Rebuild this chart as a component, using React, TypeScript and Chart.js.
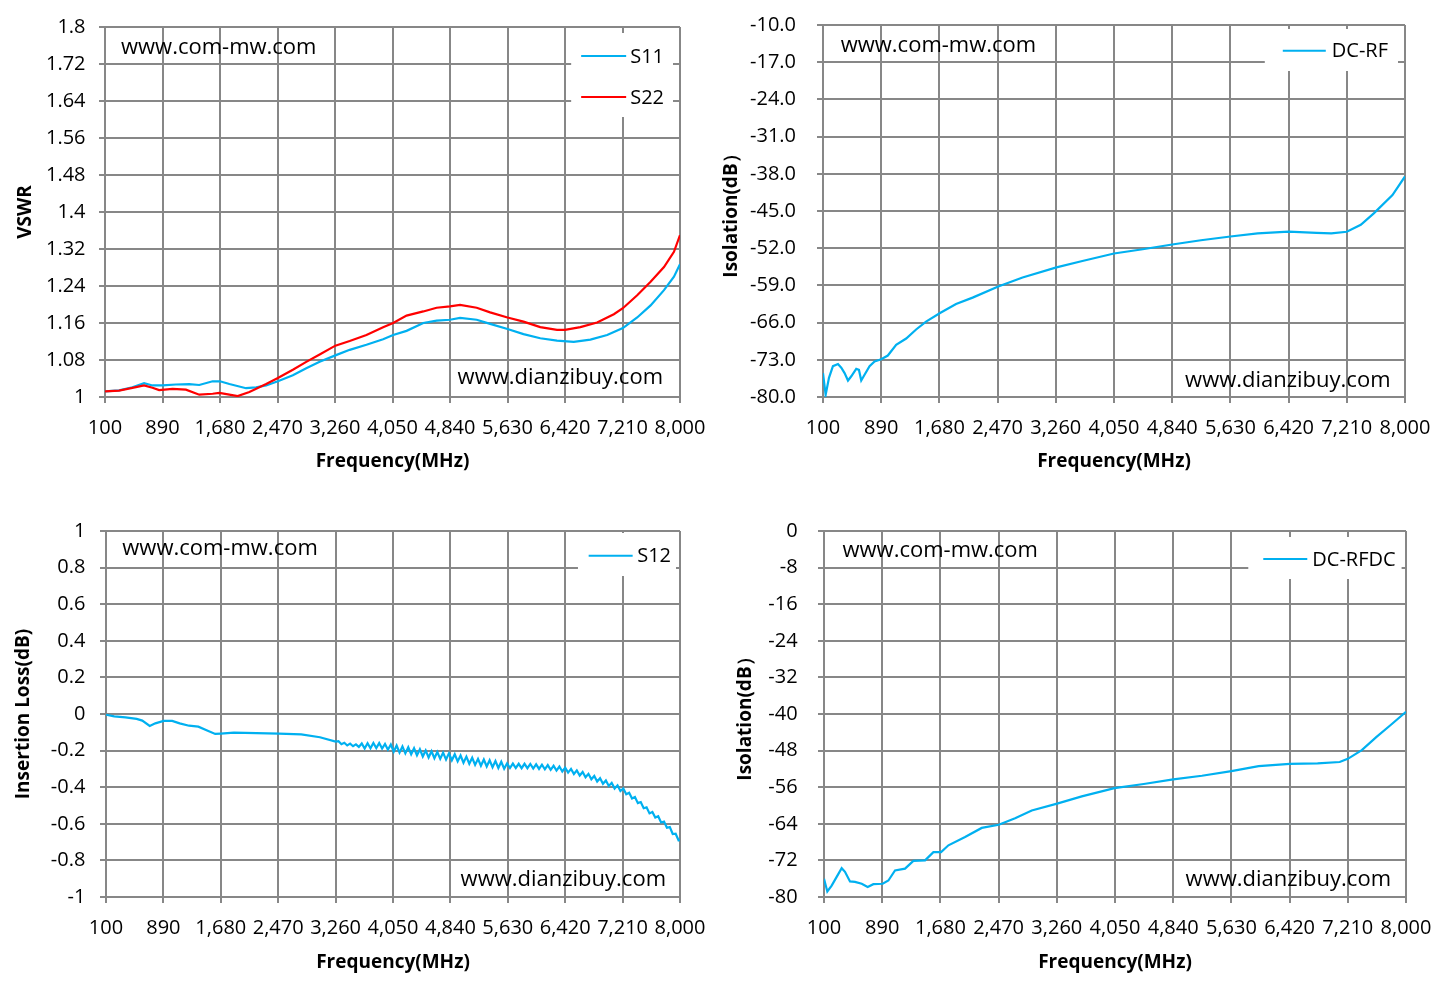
import React, { useEffect, useRef } from 'react';
import { Chart, registerables } from 'chart.js';

Chart.register(...registerables);

// ---------------- data ----------------
const FREQ_TICKS = [100, 890, 1680, 2470, 3260, 4050, 4840, 5630, 6420, 7210, 8000];
const VSWR_TICKS = [1, 1.08, 1.16, 1.24, 1.32, 1.4, 1.48, 1.56, 1.64, 1.72, 1.8];
const ISO_RF_TICKS = [-80, -73, -66, -59, -52, -45, -38, -31, -24, -17, -10];
const IL_TICKS = [-1, -0.8, -0.6, -0.4, -0.2, 0, 0.2, 0.4, 0.6, 0.8, 1];
const ISO_RFDC_TICKS = [-80, -72, -64, -56, -48, -40, -32, -24, -16, -8, 0];

const S11_FREQ = [
  100, 293, 477, 637, 752, 890, 1074, 1257, 1395, 1579,
  1680, 1809, 2038, 2176, 2314, 2475, 2681, 2865, 3049, 3265,
  3462, 3692, 3921, 4059, 4243, 4473, 4656, 4840, 4978, 5207,
  5391, 5630, 5850, 6080, 6310, 6540, 6769, 6999, 7215, 7412,
  7596, 7780, 7917, 8000,
];
const S11_VSWR = [
  1.012, 1.0145, 1.021, 1.03, 1.025, 1.025, 1.027, 1.028, 1.026, 1.034,
  1.034, 1.028, 1.019, 1.021, 1.025, 1.034, 1.047, 1.062, 1.076, 1.09,
  1.102, 1.113, 1.125, 1.134, 1.143, 1.16, 1.165, 1.167, 1.171, 1.167,
  1.158, 1.147, 1.136, 1.127, 1.122, 1.119, 1.124, 1.134, 1.149, 1.172,
  1.198, 1.231, 1.26, 1.287,
];

const S22_FREQ = [
  100, 293, 477, 637, 752, 844, 1028, 1212, 1395, 1579,
  1671, 1809, 1923, 2084, 2314, 2475, 2681, 2865, 3049, 3265,
  3462, 3692, 3921, 4059, 4243, 4473, 4656, 4840, 4978, 5207,
  5391, 5630, 5850, 6080, 6310, 6420, 6631, 6861, 7091, 7215,
  7412, 7596, 7780, 7917, 8000,
];
const S22_VSWR = [
  1.012, 1.0138, 1.0196, 1.025, 1.02, 1.015, 1.0175, 1.016, 1.005, 1.007,
  1.0087, 1.005, 1.002, 1.011, 1.028, 1.041, 1.059, 1.076, 1.092, 1.111,
  1.121, 1.134, 1.151, 1.16, 1.176, 1.185, 1.193, 1.196, 1.199, 1.193,
  1.183, 1.172, 1.163, 1.151, 1.145, 1.145, 1.151, 1.161, 1.179, 1.192,
  1.22, 1.249, 1.281, 1.314, 1.35,
];

const DCRF_FREQ = [
  100, 136, 181, 235, 303, 348, 393, 439, 484, 551,
  588, 619, 664, 732, 800, 890, 980, 1093, 1229, 1364,
  1499, 1689, 1906, 2131, 2479, 2809, 3269, 3621, 4050, 4440,
  4840, 5230, 5630, 6000, 6420, 6800, 7000, 7210, 7400, 7580,
  7830, 8000,
];
const DCRF_ISO = [
  -75.5, -79.6, -76.4, -74.2, -73.8, -74.5, -75.5, -76.9, -76.1, -74.7,
  -74.9, -76.9, -75.8, -74.2, -73.3, -72.9, -72.2, -70.2, -69.0, -67.3,
  -65.8, -64.2, -62.5, -61.3, -59.2, -57.5, -55.6, -54.4, -53.0, -52.2,
  -51.3, -50.5, -49.8, -49.2, -48.9, -49.1, -49.2, -48.9, -47.6, -45.4,
  -42.0, -38.5,
];

const S12_FREQ = [
  100, 213, 368, 522, 599, 702, 779, 893, 1011, 1114,
  1243, 1371, 1500, 1603, 1680, 1860, 2169, 2478, 2787, 3044,
  3260, 3300, 3340, 3380, 3420, 3460, 3500, 3540, 3580, 3620,
  3660, 3700, 3740, 3780, 3820, 3860, 3900, 3940, 3980, 4020,
  4060, 4100, 4140, 4180, 4220, 4260, 4300, 4340, 4380, 4420,
  4460, 4500, 4540, 4580, 4620, 4660, 4700, 4740, 4780, 4820,
  4860, 4900, 4940, 4980, 5020, 5060, 5100, 5140, 5180, 5220,
  5260, 5300, 5340, 5380, 5420, 5460, 5500, 5540, 5580, 5620,
  5660, 5700, 5740, 5780, 5820, 5860, 5900, 5940, 5980, 6020,
  6060, 6100, 6140, 6180, 6220, 6260, 6300, 6340, 6380, 6420,
  6460, 6500, 6540, 6580, 6620, 6660, 6700, 6740, 6780, 6820,
  6860, 6900, 6940, 6980, 7020, 7060, 7100, 7140, 7180, 7220,
  7260, 7300, 7340, 7380, 7420, 7460, 7500, 7540, 7580, 7620,
  7660, 7700, 7740, 7780, 7820, 7860, 7900, 7940, 7980, 8000,
];
const S12_IL = [
  -0.004, -0.013, -0.018, -0.027, -0.036, -0.065, -0.051, -0.038, -0.038, -0.051,
  -0.064, -0.069, -0.091, -0.109, -0.107, -0.102, -0.105, -0.107, -0.111, -0.127,
  -0.151, -0.149, -0.165, -0.157, -0.172, -0.162, -0.176, -0.166, -0.18, -0.161,
  -0.189, -0.16, -0.187, -0.158, -0.186, -0.159, -0.189, -0.164, -0.195, -0.167,
  -0.206, -0.172, -0.211, -0.177, -0.215, -0.181, -0.22, -0.187, -0.226, -0.193,
  -0.232, -0.199, -0.238, -0.204, -0.242, -0.208, -0.245, -0.211, -0.249, -0.215,
  -0.253, -0.22, -0.259, -0.227, -0.266, -0.233, -0.272, -0.239, -0.278, -0.245,
  -0.283, -0.249, -0.287, -0.253, -0.291, -0.257, -0.295, -0.261, -0.299, -0.27,
  -0.295, -0.271, -0.295, -0.272, -0.296, -0.272, -0.296, -0.273, -0.298, -0.275,
  -0.3, -0.277, -0.302, -0.279, -0.305, -0.283, -0.309, -0.287, -0.314, -0.293,
  -0.32, -0.3, -0.328, -0.308, -0.336, -0.317, -0.346, -0.327, -0.357, -0.339,
  -0.369, -0.351, -0.381, -0.363, -0.393, -0.376, -0.407, -0.39, -0.421, -0.407,
  -0.438, -0.43, -0.462, -0.454, -0.487, -0.481, -0.515, -0.51, -0.543, -0.535,
  -0.566, -0.559, -0.593, -0.588, -0.622, -0.618, -0.656, -0.654, -0.69, -0.687,
];

const DCRFDC_FREQ = [
  100, 145, 204, 272, 340, 385, 453, 521, 612, 693,
  770, 897, 974, 1064, 1200, 1313, 1472, 1585, 1689, 1789,
  2015, 2241, 2472, 2694, 2920, 3264, 3599, 4043, 4440, 4840,
  5230, 5630, 6000, 6420, 6800, 7100, 7210, 7400, 7600, 7800,
  8000,
];
const DCRFDC_ISO = [
  -76.0, -78.8, -77.5, -75.6, -73.7, -74.5, -76.6, -76.7, -77.1, -77.8,
  -77.2, -77.1, -76.4, -74.2, -73.8, -72.1, -72.0, -70.2, -70.2, -68.7,
  -66.9, -64.9, -64.2, -62.8, -61.1, -59.6, -58.0, -56.2, -55.3, -54.3,
  -53.5, -52.5, -51.4, -50.9, -50.8, -50.5, -49.8, -47.9, -45.0, -42.3,
  -39.5,
];

const WATERMARK_TOP = 'www.com-mw.com';
const WATERMARK_BOTTOM = 'www.dianzibuy.com';
const X_TITLE = 'Frequency(MHz)';

// ---------------- styles ----------------
const FONT = "'Open Sans', 'Liberation Sans', Arial, sans-serif";
const GRID = '#878787';
const BLUE = '#00B0F0';
const RED = '#FF0000';

interface LegendCfg {
  textInset: number; firstY: number; spacing: number; lineLen: number; gap: number;
  padL: number; padR: number; padT: number; padB: number;
}
interface PanelCfg {
  left: number; top: number; w: number; h: number;
  padTop: number; padRight: number;
  yAxisW: number; xAxisH: number;
  yTickPad: number; yTitlePad: number; xTitlePad: number;
  wmTL: [number, number]; wmBR: [number, number];
  legend: LegendCfg;
}
interface SeriesCfg { label: string; freq: number[]; values: number[]; color: string; order: number }

function Panel(props: {
  cfg: PanelCfg; series: SeriesCfg[]; yTicks: number[]; yTitle: string; yFormat: (v: number) => string;
}) {
  const ref = useRef<HTMLCanvasElement>(null);
  const { cfg, series, yTicks, yTitle, yFormat } = props;

  useEffect(() => {
    const canvas = ref.current;
    if (!canvas) return;

    const overlay = {
      id: 'overlay',
      afterDraw(chart: any) {
        const ctx: CanvasRenderingContext2D = chart.ctx;
        const a = chart.chartArea;
        ctx.save();
        ctx.fillStyle = '#000';
        ctx.font = `22px ${FONT}`;
        ctx.textBaseline = 'alphabetic';
        ctx.textAlign = 'left';
        ctx.fillText(WATERMARK_TOP, a.left + cfg.wmTL[0], a.top + cfg.wmTL[1]);
        ctx.textAlign = 'right';
        ctx.fillText(WATERMARK_BOTTOM, a.right - cfg.wmBR[0], a.bottom - cfg.wmBR[1]);

        const L = cfg.legend;
        ctx.font = `20px ${FONT}`;
        const items = chart.data.datasets.map((d: any) => ({ label: String(d.label), color: String(d.borderColor) }));
        const tw = Math.max(...items.map((i: any) => ctx.measureText(i.label).width));
        const textRight = a.right - L.textInset;
        const textLeft = textRight - tw;
        const lineRight = textLeft - L.gap;
        const lineLeft = lineRight - L.lineLen;
        const y0 = a.top + L.firstY;
        const yN = y0 + (items.length - 1) * L.spacing;
        ctx.fillStyle = '#fff';
        const bx = lineLeft - L.padL;
        const by = y0 - L.padT;
        ctx.fillRect(bx, by, textRight + L.padR - bx, yN + L.padB - by);
        items.forEach((it: any, i: number) => {
          const y = y0 + i * L.spacing;
          ctx.strokeStyle = it.color;
          ctx.lineWidth = 2;
          ctx.beginPath();
          ctx.moveTo(lineLeft, y);
          ctx.lineTo(lineRight, y);
          ctx.stroke();
          ctx.fillStyle = '#000';
          ctx.textAlign = 'left';
          ctx.textBaseline = 'middle';
          ctx.fillText(it.label, textLeft, y + 1);
        });
        ctx.restore();
      },
    };

    const gridOpts = { color: GRID, lineWidth: 2, tickLength: 6, drawTicks: true };
    const borderOpts = { display: true, color: GRID, width: 2 };

    const chart = new Chart(canvas, {
      type: 'line',
      data: {
        datasets: series.map((s) => ({
          label: s.label,
          data: s.freq.map((f, i) => ({ x: f, y: s.values[i] })),
          borderColor: s.color,
          backgroundColor: s.color,
          borderWidth: 2.2,
          pointRadius: 0,
          tension: 0,
          fill: false,
          order: s.order,
        })),
      },
      options: {
        responsive: false,
        animation: false,
        events: [],
        layout: { padding: { left: 0, top: cfg.padTop, right: cfg.padRight, bottom: 0 } },
        plugins: { legend: { display: false }, tooltip: { enabled: false } },
        scales: {
          x: {
            type: 'linear',
            min: FREQ_TICKS[0],
            max: FREQ_TICKS[FREQ_TICKS.length - 1],
            afterBuildTicks: (s: any) => { s.ticks = FREQ_TICKS.map((v) => ({ value: v })); },
            afterFit: (s: any) => {
              s.height = cfg.xAxisH;
              s.paddingLeft = 0; s.paddingRight = 0;
            },
            ticks: {
              autoSkip: false, maxRotation: 0, minRotation: 0, padding: 13, color: '#000',
              font: { family: FONT, size: 20 },
              callback: (v: any) => Number(v).toLocaleString('en-US'),
            },
            grid: gridOpts,
            border: borderOpts,
            title: {
              display: true, text: X_TITLE, color: '#000',
              font: { family: FONT, size: 19, weight: 'bold' },
              padding: { top: 0, bottom: cfg.xTitlePad },
            },
          },
          y: {
            type: 'linear',
            min: yTicks[0],
            max: yTicks[yTicks.length - 1],
            afterBuildTicks: (s: any) => { s.ticks = yTicks.map((v) => ({ value: v })); },
            afterFit: (s: any) => {
              s.width = cfg.yAxisW;
              s.paddingTop = 0; s.paddingBottom = 0;
            },
            ticks: {
              autoSkip: false, padding: cfg.yTickPad, color: '#000',
              font: { family: FONT, size: 20 },
              callback: (v: any) => yFormat(Number(v)),
            },
            grid: gridOpts,
            border: borderOpts,
            title: {
              display: true, text: yTitle, color: '#000',
              font: { family: FONT, size: 19, weight: 'bold' },
              padding: { top: cfg.yTitlePad, bottom: 0 },
            },
          },
        },
      } as any,
      plugins: [overlay],
    });
    return () => chart.destroy();
  }, []);

  return (
    <canvas
      ref={ref}
      width={cfg.w}
      height={cfg.h}
      style={{ position: 'absolute', left: cfg.left, top: cfg.top, width: cfg.w, height: cfg.h }}
    />
  );
}

const P1: PanelCfg = {
  left: 0, top: 0, w: 720, h: 490, padTop: 27, padRight: 40, yAxisW: 105, xAxisH: 93,
  yTickPad: 13.5, yTitlePad: 13.8, xTitlePad: 17.3, wmTL: [16, 27.3], wmBR: [17, 12.7],
  legend: { textInset: 16, firstY: 29, spacing: 41, lineLen: 45, gap: 4, padL: 10, padR: 9, padT: 23, padB: 20 },
};
const P2: PanelCfg = {
  left: 720, top: 0, w: 721, h: 490, padTop: 25, padRight: 36, yAxisW: 103, xAxisH: 93,
  yTickPad: 21, yTitlePad: 0, xTitlePad: 16.8, wmTL: [17.7, 26.7], wmBR: [14.5, 10.3],
  legend: { textInset: 17, firstY: 25.7, spacing: 41, lineLen: 43, gap: 6, padL: 18, padR: 10, padT: 21.7, padB: 20.3 },
};
const P3: PanelCfg = {
  left: 0, top: 497, w: 720, h: 496, padTop: 34, padRight: 40, yAxisW: 106, xAxisH: 96,
  yTickPad: 14.6, yTitlePad: 12, xTitlePad: 18.9, wmTL: [16.3, 24], wmBR: [14, 11.3],
  legend: { textInset: 9, firstY: 24.7, spacing: 41, lineLen: 44, gap: 4.5, padL: 10.7, padR: 5, padT: 22.7, padB: 20.3 },
};
const P4: PanelCfg = {
  left: 720, top: 497, w: 721, h: 496, padTop: 34, padRight: 35, yAxisW: 104, xAxisH: 96,
  yTickPad: 20.4, yTitlePad: 14.5, xTitlePad: 18.9, wmTL: [18.5, 25.7], wmBR: [15, 11.3],
  legend: { textInset: 10.4, firstY: 28, spacing: 41, lineLen: 44, gap: 5, padL: 15, padR: 6, padT: 22, padB: 20 },
};

export default function App() {
  return (
    <div style={{ position: 'absolute', left: 0, top: 0, width: 1441, height: 993, background: '#fff', overflow: 'hidden' }}>
      <Panel
        cfg={P1}
        yTicks={VSWR_TICKS}
        yTitle="VSWR"
        yFormat={(v) => String(Number(v.toFixed(2)))}
        series={[
          { label: 'S11', freq: S11_FREQ, values: S11_VSWR, color: BLUE, order: 1 },
          { label: 'S22', freq: S22_FREQ, values: S22_VSWR, color: RED, order: 0 },
        ]}
      />
      <Panel
        cfg={P2}
        yTicks={ISO_RF_TICKS}
        yTitle="Isolation(dB）"
        yFormat={(v) => v.toFixed(1)}
        series={[{ label: 'DC-RF', freq: DCRF_FREQ, values: DCRF_ISO, color: BLUE, order: 0 }]}
      />
      <Panel
        cfg={P3}
        yTicks={IL_TICKS}
        yTitle="Insertion Loss(dB)"
        yFormat={(v) => String(Number(v.toFixed(1)))}
        series={[{ label: 'S12', freq: S12_FREQ, values: S12_IL, color: BLUE, order: 0 }]}
      />
      <Panel
        cfg={P4}
        yTicks={ISO_RFDC_TICKS}
        yTitle="Isolation(dB）"
        yFormat={(v) => String(Number(v.toFixed(0)))}
        series={[{ label: 'DC-RFDC', freq: DCRFDC_FREQ, values: DCRFDC_ISO, color: BLUE, order: 0 }]}
      />
    </div>
  );
}
